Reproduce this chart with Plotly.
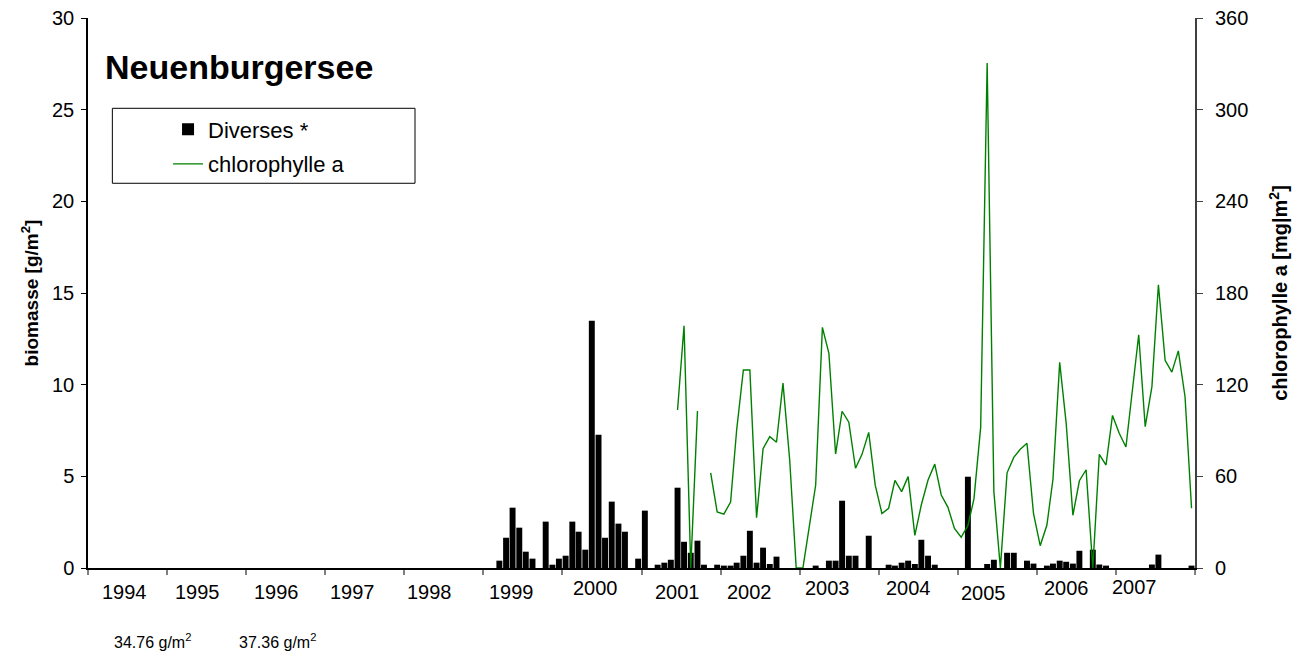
import pandas as pd
import plotly.graph_objects as go

# ---------------- data ----------------
bar_months = [
    "1999-03", "1999-04", "1999-05", "1999-06", "1999-07", "1999-08", "1999-10", "1999-11", "1999-12",
    "2000-01", "2000-02", "2000-03", "2000-04", "2000-05", "2000-06", "2000-07", "2000-08", "2000-09", "2000-10", "2000-12",
    "2001-01", "2001-03", "2001-04", "2001-05", "2001-06", "2001-07", "2001-08", "2001-09", "2001-10", "2001-12",
    "2002-01", "2002-02", "2002-03", "2002-04", "2002-05", "2002-06", "2002-07", "2002-08", "2002-09",
    "2003-03", "2003-05", "2003-06", "2003-07", "2003-08", "2003-09", "2003-11",
    "2004-02", "2004-03", "2004-04", "2004-05", "2004-06", "2004-07", "2004-08", "2004-09",
    "2005-02", "2005-05", "2005-06", "2005-08", "2005-09", "2005-11", "2005-12",
    "2006-02", "2006-03", "2006-04", "2006-05", "2006-06", "2006-07", "2006-09", "2006-10", "2006-11",
    "2007-06", "2007-07", "2007-12",
]
biomasse = [
    0.40, 1.65, 3.29, 2.20, 0.89, 0.51, 2.53, 0.18, 0.51,
    0.67, 2.53, 1.98, 1.00, 13.49, 7.27, 1.65, 3.62, 2.42, 1.98, 0.51,
    3.13, 0.18, 0.29, 0.45, 4.38, 1.43, 0.83, 1.49, 0.18, 0.18,
    0.13, 0.13, 0.29, 0.67, 2.03, 0.29, 1.11, 0.22, 0.62,
    0.13, 0.40, 0.40, 3.67, 0.67, 0.67, 1.76,
    0.18, 0.13, 0.29, 0.40, 0.22, 1.54, 0.67, 0.18,
    4.98, 0.22, 0.45, 0.83, 0.83, 0.40, 0.24,
    0.13, 0.24, 0.40, 0.34, 0.24, 0.94, 1.00, 0.19, 0.13,
    0.19, 0.73, 0.13,
]

chl_months = [
    "2001-06", "2001-07", "2001-08", "2001-09", "2001-10", "2001-11", "2001-12",
    "2002-01", "2002-02", "2002-03", "2002-04", "2002-05", "2002-06", "2002-07", "2002-08", "2002-09", "2002-10", "2002-11", "2002-12",
    "2003-01", "2003-02", "2003-03", "2003-04", "2003-05", "2003-06", "2003-07", "2003-08", "2003-09", "2003-10", "2003-11", "2003-12",
    "2004-01", "2004-02", "2004-03", "2004-04", "2004-05", "2004-06", "2004-07", "2004-08", "2004-09", "2004-10", "2004-11", "2004-12",
    "2005-01", "2005-02", "2005-03", "2005-04", "2005-05", "2005-06", "2005-07", "2005-08", "2005-09", "2005-10", "2005-11", "2005-12",
    "2006-01", "2006-02", "2006-03", "2006-04", "2006-05", "2006-06", "2006-07", "2006-08", "2006-09", "2006-10", "2006-11", "2006-12",
    "2007-01", "2007-02", "2007-03", "2007-04", "2007-05", "2007-06", "2007-07", "2007-08", "2007-09", "2007-10", "2007-11", "2007-12",
]
chlorophylle = [
    103.4, 158.6, 0.0, 102.8, None, 62.2, 36.7,
    35.3, 43.2, 90.3, 129.6, 129.6, 32.9, 78.1, 86.0, 82.3, 121.0, 70.7, 0.0,
    0.0, 29.5, 54.3, 157.5, 140.5, 74.6, 102.6, 95.4, 65.3, 74.4, 88.8, 54.2,
    35.7, 39.1, 57.4, 50.0, 59.8, 21.4, 41.4, 57.6, 68.0, 47.8, 39.7, 25.9,
    20.1, 27.7, 45.2, 92.0, 330.5, 50.0, 0.0, 62.3, 72.4, 77.7, 81.6, 35.8,
    14.6, 28.1, 58.1, 134.6, 94.7, 34.5, 57.1, 64.3, 0.0, 74.4, 67.4, 99.9,
    88.2, 79.2, 114.3, 152.7, 92.5, 118.7, 185.4, 136.0, 128.2, 142.1, 112.1, 39.1,
]

year_labels = ["1994", "1995", "1996", "1997", "1998", "1999", "2000",
               "2001", "2002", "2003", "2004", "2005", "2006", "2007"]
notes = ["34.76 g/m<sup>2</sup>", "37.36 g/m<sup>2</sup>"]

# ---------------- layout constants ----------------
label_frac = [0.46, 0.385, 0.386, 0.339, 0.32, 0.362, 0.416,
              0.46, 0.37, 0.347, 0.374, 0.323, 0.37, 0.229]
label_shift = [-24, -24, -24, -24, -24, -24, -20,
               -24, -24, -20, -20, -25, -20, -19]
note_x = [0.0214, 0.1343]

FONT = "Liberation Sans, Arial, Helvetica, sans-serif"


def mid_month(m):
    return pd.Timestamp(m + "-01") + pd.Timedelta(days=15)


bar_x = [mid_month(m) for m in bar_months]
chl_x = [mid_month(m) for m in chl_months]
bar_w = 0.9 * 30.44 * 24 * 3600 * 1000

fig = go.Figure()
fig.add_trace(go.Bar(
    x=bar_x, y=biomasse, name="Diverses *", width=bar_w,
    marker=dict(color="black", line=dict(width=0)),
    legendgroup="a",
))
fig.add_trace(go.Scatter(
    x=chl_x, y=chlorophylle, name="chlorophylle a", mode="lines",
    line=dict(color="#008000", width=1.4), yaxis="y2", connectgaps=False,
    legendgroup="b",
))

annotations = []
for lab, fr, sh in zip(year_labels, label_frac, label_shift):
    y0 = int(lab)
    start = pd.Timestamp(f"{y0}-01-01")
    end = pd.Timestamp(f"{y0 + 1}-01-01")
    xpos = start + (end - start) * fr
    annotations.append(dict(
        x=xpos, xref="x", y=0, yref="paper", yanchor="middle", xanchor="center",
        yshift=sh, text=lab, showarrow=False, font=dict(size=20, color="black", family=FONT),
    ))
for t, nx in zip(notes, note_x):
    annotations.append(dict(
        x=nx, xref="paper", y=-0.1336, yref="paper", xanchor="left", yanchor="middle",
        text=t, showarrow=False, font=dict(size=16, color="black", family=FONT),
    ))
annotations.append(dict(
    x=0.0136, xref="paper", y=0.911, yref="paper", xanchor="left", yanchor="middle",
    text="<b>Neuenburgersee</b>", showarrow=False,
    font=dict(size=34, color="black", family=FONT),
))

# the page body adds an 8px offset, so the figure is 8px smaller on each axis
fig.update_layout(
    width=1297, height=649,
    margin=dict(l=80, r=110, t=10, b=89, autoexpand=False),
    paper_bgcolor="white", plot_bgcolor="white",
    font=dict(family=FONT, color="black", size=20),
    barmode="overlay",
    xaxis=dict(
        type="date", automargin=False,
        range=["1994-01-01", "2008-01-01"],
        tickvals=[pd.Timestamp(f"{y}-01-01") for y in range(1994, 2009)],
        showticklabels=False,
        ticks="outside", ticklen=5, tickcolor="#808080", tickwidth=1.5,
        showline=True, linecolor="black", linewidth=1.5,
        showgrid=False, zeroline=False,
    ),
    yaxis=dict(
        range=[0, 30], tickvals=[0, 5, 10, 15, 20, 25, 30], automargin=False,
        ticks="outside", ticklen=5, tickcolor="black", ticklabelstandoff=3,
        ticklabeloverflow="allow",
        showline=True, linecolor="black", linewidth=1.5,
        showgrid=False, zeroline=False,
        tickfont=dict(size=20),
        title=dict(text="<b>biomasse [g/m<sup>2</sup>]</b>", font=dict(size=19), standoff=8),
    ),
    yaxis2=dict(
        range=[0, 360], tickvals=[0, 60, 120, 180, 240, 300, 360], automargin=False,
        overlaying="y", side="right", anchor="x",
        ticks="outside", ticklen=6, tickcolor="#404040", ticklabelstandoff=8,
        ticklabeloverflow="allow",
        showline=True, linecolor="#404040", linewidth=2,
        showgrid=False, zeroline=False,
        tickfont=dict(size=20),
        title=dict(text="<b>chlorophylle a [mg|m<sup>2</sup>]</b>", font=dict(size=20), standoff=26),
    ),
    showlegend=True,
    legend=dict(
        x=0.0723, y=0.8355, xanchor="left", yanchor="top",
        bgcolor="rgba(0,0,0,0)", borderwidth=0,
        font=dict(size=22, family=FONT), traceorder="grouped", tracegroupgap=3,
        itemwidth=30,
    ),
    shapes=[dict(
        type="rect", xref="paper", yref="paper",
        x0=0.022, x1=0.2954, y0=0.6995, y1=0.8358,
        line=dict(color="black", width=1), fillcolor="rgba(0,0,0,0)", layer="below",
    )],
    annotations=annotations,
)

fig.write_html("out.html")
